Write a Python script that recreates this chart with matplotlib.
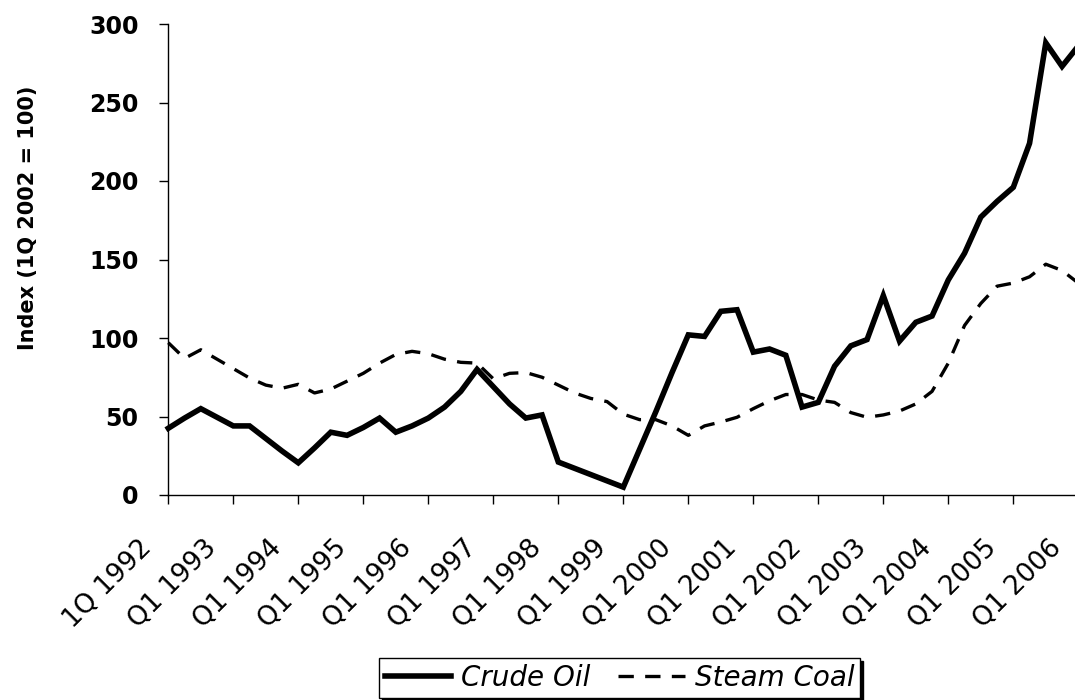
#!/usr/bin/env python3
"""
Crude oil vs steam coal price index, quarterly, 1Q 1992 - Q1 2006 (1Q 2002 = 100).

Writes out.png (1075 x 700 px). The right edge of the plot area runs past the
figure, as in the original chart.
"""

import matplotlib

matplotlib.use("Agg")
import matplotlib.pyplot as plt
from matplotlib.transforms import ScaledTranslation
import numpy as np


# quarterly index values, 1Q 1992 ... Q1 2006 (57 quarters)
crude_oil = [
    42.5, 49, 55, 49.5, 44, 44, 36, 28, 20.5, 30,
    40, 38, 43, 49, 40, 44, 49, 56, 66, 80,
    69, 58, 49, 51, 21, 17, 13, 9, 5, 29,
    53, 78, 102, 101, 117, 118, 91, 93, 89, 56,
    59, 82, 95, 99, 127, 98, 110, 114, 137, 154,
    177, 187, 196, 224, 288, 273, 286,
]
steam_coal = [
    97, 87, 92.5, 86.5, 80.5, 74.5, 70, 68, 70.5, 65,
    67.5, 72.5, 77.5, 84, 89.5, 91.5, 90, 86.5, 84.5, 84,
    74, 77.5, 78, 75, 70, 65, 61.5, 59.5, 51.5, 48,
    48, 44, 38, 44, 46.5, 49.5, 55, 60, 64, 64,
    60.5, 59, 52.5, 49.5, 51, 53.5, 58, 66, 84, 108,
    122, 133, 135, 139, 147, 143, 135,
]
tick_labels = [
    "1Q 1992", "Q1 1993", "Q1 1994", "Q1 1995", "Q1 1996",
    "Q1 1997", "Q1 1998", "Q1 1999", "Q1 2000", "Q1 2001",
    "Q1 2002", "Q1 2003", "Q1 2004", "Q1 2005", "Q1 2006",
]
y_ticks = [0, 50, 100, 150, 200, 250, 300]

W, H = 1075, 700
PX_PER_QUARTER = 16.25


def main() -> int:
    fig = plt.figure(figsize=(W / 100, H / 100), dpi=100)
    n_cat = len(crude_oil) + 1
    # left/bottom/height in px from the reference; plot area runs past right edge
    ax = fig.add_axes([168.3 / W, 205 / H, n_cat * PX_PER_QUARTER / W, 471 / H])

    x = np.arange(len(crude_oil))
    ax.plot(x, crude_oil, color="black", lw=4.0, solid_joinstyle="miter",
            label="Crude Oil", clip_on=False)
    ax.plot(x, steam_coal, color="black", lw=2.4, dashes=(4.6, 3.4),
            label="Steam Coal", clip_on=False)

    ax.set_xlim(0, n_cat)
    ax.set_ylim(0, 300)
    ax.set_yticks(y_ticks)
    xticks = np.arange(0, len(crude_oil), 4)
    ax.set_xticks(xticks)
    ax.set_xticklabels([])

    # rotated category labels, set a little left of / below each tick as in Excel
    lab_trans = ax.get_xaxis_transform() + ScaledTranslation(-30 / 100, -40 / 100,
                                                             fig.dpi_scale_trans)
    for pos, text in zip(xticks, tick_labels):
        ax.text(pos, 0, text, transform=lab_trans, rotation=45, ha="right", va="top",
                rotation_mode="anchor", fontsize=19, clip_on=False)

    for lab in ax.get_yticklabels():
        lab.set_fontweight("bold")
        lab.set_fontsize(17)

    for side in ("top", "right"):
        ax.spines[side].set_visible(False)
    for side in ("left", "bottom"):
        ax.spines[side].set_linewidth(1.0)
    ax.tick_params(axis="both", direction="out", length=6.5, width=1.0, color="black")
    ax.tick_params(axis="y", pad=15)

    fig.text(28 / W, 1 - 218 / H, "Index (1Q 2002 = 100)", rotation=90,
             ha="center", va="center", fontsize=15, fontweight="bold")

    leg = fig.legend(loc="center", bbox_to_anchor=(619.5 / W, 1 - 678 / H), ncol=2,
                     prop={"style": "italic", "size": 20}, frameon=True, fancybox=False,
                     framealpha=1, edgecolor="black", borderpad=0.2, handlelength=2.4,
                     handletextpad=0.35, columnspacing=1.0,
                     shadow={"color": "black", "alpha": 1.0})
    leg.get_frame().set_linewidth(1.0)

    fig.savefig("out.png", dpi=100)
    plt.close(fig)
    return 0


if __name__ == "__main__":
    raise SystemExit(main())
